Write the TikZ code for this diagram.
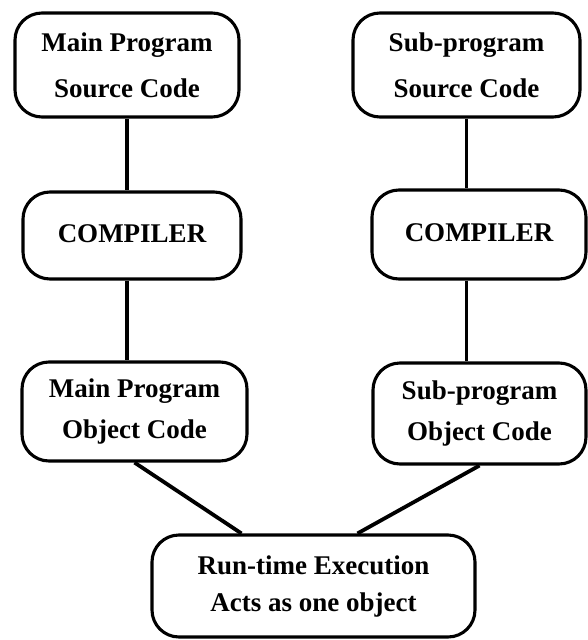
\documentclass[tikz,border=0pt]{standalone}
\usepackage{fontspec}
\setmainfont{Liberation Serif}
\begin{document}
\begin{tikzpicture}[x=1pt,y=-1pt,
  box/.style={draw, line width=3.1pt, rounded corners=27pt, inner sep=0pt,
              align=center, font=\bfseries\fontsize{27}{46}\selectfont},
  link/.style={line width=3.1pt}]
\useasboundingbox (0,0) rectangle (588,640);

% source code boxes
\node[box, minimum width=224pt, minimum height=104pt] (ms) at (127,65)
  {Main Program\\Source Code};
\node[box, minimum width=227pt, minimum height=104pt] (ss) at (466.5,65)
  {Sub-program\\Source Code};

% compilers
\node[box, minimum width=218pt, minimum height=87pt] (cl) at (132,235.5)
  {\raisebox{3pt}{COMPILER}};
\node[box, minimum width=214pt, minimum height=89pt] (cr) at (479,234.5)
  {\raisebox{3pt}{COMPILER}};

% object code boxes
\node[box, minimum width=225pt, minimum height=99pt,
      font=\bfseries\fontsize{27}{41}\selectfont] (ol) at (134.5,411.5)
  {Main Program\\Object Code};
\node[box, minimum width=213pt, minimum height=101pt,
      font=\bfseries\fontsize{27}{41}\selectfont] (or) at (479.5,413.5)
  {Sub-program\\Object Code};

% linked program
\node[box, minimum width=323pt, minimum height=102pt,
      font=\bfseries\fontsize{27}{37}\selectfont] (rt) at (313.5,586)
  {Run-time Execution\\Acts as one object};

% connectors
\draw[link] (ms.south) -- (ms.south |- cl.north);
\draw[link] (cl.south -| ms.south) -- (ms.south |- ol.north);
\draw[link] (ss.south) -- (ss.south |- cr.north);
\draw[link] (cr.south -| ss.south) -- (ss.south |- or.north);
\draw[link, line width=3.8pt] (ol.south) -- ([xshift=-72pt]rt.north);
\draw[link, line width=3.8pt] (or.south) -- ([xshift=44pt]rt.north);
\end{tikzpicture}
\end{document}
